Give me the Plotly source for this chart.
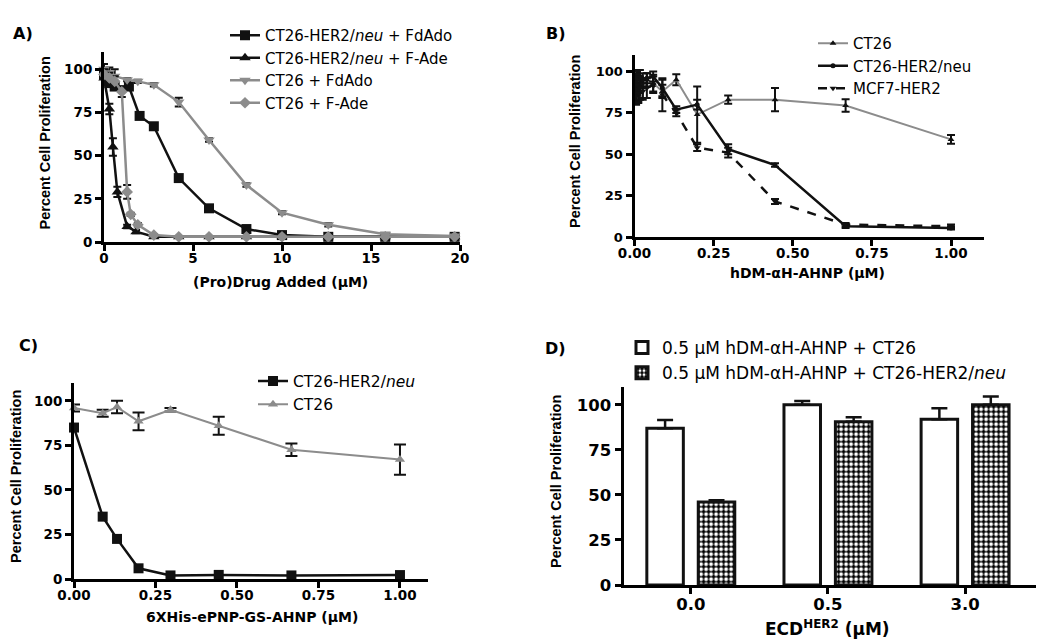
import plotly.graph_objects as go

# ---------------- Panel A data ----------------
a_x_her2_fdado = [0, 0.3, 0.6, 1.4, 2.0, 2.8, 4.2, 5.9, 8.0, 10.0, 12.6, 15.8, 19.7]
a_y_her2_fdado = [97, 92, 90, 90, 73, 67, 37, 19.5, 7.5, 4, 3, 3, 3]
a_e_her2_fdado = [3, 2, 2, 1, 1, 1, 1, 1, 1, 0.5, 0.5, 0.5, 0.5]

a_x_her2_fade = [0, 0.3, 0.5, 0.75, 1.3, 1.8, 2.8, 4.2, 5.9, 8.0, 10.0, 12.6, 15.8, 19.7]
a_y_her2_fade = [95, 77, 55, 29, 9, 6, 3, 3, 3, 3, 3, 3, 3, 3]
a_e_her2_fade = [4, 3, 5, 3, 1, 1, 0.5, 0.5, 0.5, 0.5, 0.5, 0.5, 0.5, 0.5]

a_x_ct26_fdado = [0, 0.3, 0.6, 1.3, 1.9, 2.8, 4.2, 5.9, 8.0, 10.0, 12.6, 15.8, 19.7]
a_y_ct26_fdado = [100, 98, 96, 94, 93, 91, 81, 59, 33, 17, 10, 4.5, 3.5]
a_e_ct26_fdado = [3, 3, 4, 1, 1, 1, 2.5, 1, 1, 1, 1, 0.5, 0.5]

a_x_ct26_fade = [0, 0.3, 0.6, 1.0, 1.3, 1.5, 1.9, 2.8, 4.2, 5.9, 8.0, 10.0, 12.6, 15.8, 19.7]
a_y_ct26_fade = [97, 95, 93, 87, 29, 16, 10, 4, 3, 3, 3, 3, 3, 3, 3]
a_e_ct26_fade = [3, 3, 3, 3, 4, 1, 1, 0.5, 0.5, 0.5, 0.5, 0.5, 0.5, 0.5, 0.5]

# ---------------- Panel B data ----------------
b_x = [0.005, 0.008, 0.012, 0.017, 0.026, 0.039, 0.059, 0.088, 0.132, 0.198, 0.296, 0.444, 0.667, 1.0]
b_ct26 = [90, 95, 88, 92, 90, 95, 93, 88, 95, 74, 83, 83, 79.5, 59]
b_ct26_err = [8, 5, 6, 5, 6, 4, 5, 4, 3.3, 17, 2.5, 7, 3.8, 2.7]
b_her2 = [94, 96, 98, 97, 95, 96, 97, 90, 77, 80, 53, 43.5, 6.5, 5.5]
b_her2_err = [4, 3, 3, 4, 4, 3, 3, 5, 2, 3, 3, 1, 1, 1]
b_mcf7 = [85, 92, 87, 90, 88, 90, 92, 86, 75, 54, 51, 21.5, 7.5, 6.5]
b_mcf7_err = [5, 6, 6, 7, 5, 6, 5, 10, 2, 2, 3, 1.5, 1, 1]

# ---------------- Panel C data ----------------
c_x = [0, 0.088, 0.132, 0.198, 0.296, 0.444, 0.667, 1.0]
c_her2 = [85, 35, 22.5, 6, 2, 2.3, 2, 2.2]
c_her2_err = [1, 1, 1, 1, 0.5, 0.5, 0.5, 0.5]
c_ct26 = [96, 93, 96.5, 88.5, 95, 86, 72.5, 67]
c_ct26_err = [2, 2, 3.5, 5, 1, 5, 3.5, 8.5]

# ---------------- Panel D data ----------------
d_cats = ["0.0", "0.5", "3.0"]
d_ct26 = [87, 100, 92]
d_ct26_err = [4.5, 2, 6]
d_her2 = [46, 90.5, 100]
d_her2_err = [1, 2.5, 4.5]

y_ticks = [0, 25, 50, 75, 100]

# page has an 8px body margin, so the figure is drawn 8px in from the top-left
OFF = 8
W, H = 1050 - OFF, 643 - OFF
FONT = "DejaVu Sans, sans-serif"
TFONT = "Liberation Sans, Arial, sans-serif"
GREY = "#8c8c8c"
BLACK = "#111111"


def px_x(p):
    return (p - OFF) / W


def px_y(p):
    return 1 - (p - OFF) / H


fig = go.Figure()


def err(arr, color, w=4):
    return dict(type="data", array=arr, visible=True, color=color, thickness=2, width=w)


# Panel A traces
fig.add_trace(go.Scatter(x=a_x_her2_fdado, y=a_y_her2_fdado, mode="lines+markers",
                         name="CT26-HER2/<i>neu</i> + FdAdo", line=dict(color=BLACK, width=2.5),
                         marker=dict(symbol="square", size=10, color=BLACK),
                         error_y=err(a_e_her2_fdado, BLACK), cliponaxis=False,
                         xaxis="x", yaxis="y", legend="legend"))
fig.add_trace(go.Scatter(x=a_x_her2_fade, y=a_y_her2_fade, mode="lines+markers",
                         name="CT26-HER2/<i>neu</i> + F-Ade", line=dict(color=BLACK, width=2.5),
                         marker=dict(symbol="triangle-up", size=10, color=BLACK),
                         error_y=err(a_e_her2_fade, BLACK), cliponaxis=False,
                         xaxis="x", yaxis="y", legend="legend"))
fig.add_trace(go.Scatter(x=a_x_ct26_fdado, y=a_y_ct26_fdado, mode="lines+markers",
                         name="CT26 + FdAdo", line=dict(color=GREY, width=2.5),
                         marker=dict(symbol="triangle-down", size=10, color=GREY),
                         error_y=err(a_e_ct26_fdado, BLACK), cliponaxis=False,
                         xaxis="x", yaxis="y", legend="legend"))
fig.add_trace(go.Scatter(x=a_x_ct26_fade, y=a_y_ct26_fade, mode="lines+markers",
                         name="CT26 + F-Ade", line=dict(color=GREY, width=2.5),
                         marker=dict(symbol="diamond", size=9, color=GREY),
                         error_y=err(a_e_ct26_fade, BLACK), cliponaxis=False,
                         xaxis="x", yaxis="y", legend="legend"))

# Panel B traces
fig.add_trace(go.Scatter(x=b_x, y=b_ct26, mode="lines+markers", name="CT26",
                         line=dict(color=GREY, width=2),
                         marker=dict(symbol="triangle-up", size=6, color=BLACK),
                         error_y=err(b_ct26_err, BLACK), cliponaxis=False,
                         xaxis="x2", yaxis="y2", legend="legend2"))
fig.add_trace(go.Scatter(x=b_x, y=b_her2, mode="lines+markers", name="CT26-HER2/neu",
                         line=dict(color=BLACK, width=2.5),
                         marker=dict(symbol="circle", size=5, color=BLACK),
                         error_y=err(b_her2_err, BLACK), cliponaxis=False,
                         xaxis="x2", yaxis="y2", legend="legend2"))
fig.add_trace(go.Scatter(x=b_x, y=b_mcf7, mode="lines+markers", name="MCF7-HER2",
                         line=dict(color=BLACK, width=2.5, dash="dash"),
                         marker=dict(symbol="triangle-down", size=6, color=BLACK),
                         error_y=err(b_mcf7_err, BLACK), cliponaxis=False,
                         xaxis="x2", yaxis="y2", legend="legend2"))

# Panel C traces
fig.add_trace(go.Scatter(x=c_x, y=c_her2, mode="lines+markers", name="CT26-HER2/<i>neu</i>",
                         line=dict(color=BLACK, width=2.5),
                         marker=dict(symbol="square", size=10, color=BLACK),
                         error_y=err(c_her2_err, BLACK), cliponaxis=False,
                         xaxis="x3", yaxis="y3", legend="legend3"))
fig.add_trace(go.Scatter(x=c_x, y=c_ct26, mode="lines+markers", name="CT26",
                         line=dict(color=GREY, width=2),
                         marker=dict(symbol="triangle-up", size=9, color=GREY),
                         error_y=err(c_ct26_err, BLACK, 6), cliponaxis=False,
                         xaxis="x3", yaxis="y3", legend="legend3"))

# Panel D traces
fig.add_trace(go.Bar(x=d_cats, y=d_ct26, name="0.5 μM hDM-αH-AHNP + CT26",
                     marker=dict(color="white", line=dict(color=BLACK, width=3)),
                     error_y=dict(type="data", array=d_ct26_err, arrayminus=[0] * len(d_ct26_err),
                                  symmetric=False, color=BLACK, thickness=2.5, width=8),
                     xaxis="x4", yaxis="y4", legend="legend4"))
fig.add_trace(go.Bar(x=d_cats, y=d_her2, name="0.5 μM hDM-αH-AHNP + CT26-HER2/<i>neu</i>",
                     marker=dict(color="black", line=dict(color=BLACK, width=3),
                                 pattern=dict(shape=".", fgcolor="white", bgcolor="black",
                                              size=5, solidity=0.45, fillmode="replace")),
                     error_y=dict(type="data", array=d_her2_err, arrayminus=[0] * len(d_her2_err),
                                  symmetric=False, color=BLACK, thickness=2.5, width=8),
                     xaxis="x4", yaxis="y4", legend="legend4"))


def axis_common(size, standoff=0):
    return dict(showline=True, linewidth=3, linecolor="black", ticks="outside",
                ticklen=6, tickwidth=3, tickcolor="black", showgrid=False,
                zeroline=False, automargin=False, ticklabelstandoff=standoff,
                tickfont=dict(family=FONT, size=size, color="black", weight="bold"))


fig.update_layout(
    template="none",
    width=W, height=H, margin=dict(l=0, r=0, t=0, b=0, autoexpand=False),
    paper_bgcolor="white", plot_bgcolor="white",
    font=dict(family=FONT, color="black"),
    barmode="group", bargap=0.25, bargroupgap=0.29,
    xaxis=dict(domain=[px_x(104), px_x(460)], range=[0, 20], tickvals=[0, 5, 10, 15, 20],
               anchor="y", **axis_common(13.5, -4)),
    yaxis=dict(domain=[px_y(242), px_y(52)], range=[0, 110], tickvals=y_ticks,
               anchor="x", **axis_common(13.5)),
    xaxis2=dict(domain=[px_x(634.5), px_x(983.6)], range=[0, 1.103],
                tickvals=[0, 0.25, 0.5, 0.75, 1.0], tickformat=".2f", anchor="y2",
                **axis_common(13.5, -4)),
    yaxis2=dict(domain=[px_y(237), px_y(55)], range=[0, 110], tickvals=y_ticks,
                anchor="x2", **axis_common(13)),
    xaxis3=dict(domain=[px_x(74), px_x(428)], range=[0, 1.086],
                tickvals=[0, 0.25, 0.5, 0.75, 1.0], tickformat=".2f", anchor="y3",
                **axis_common(13.5, -4)),
    yaxis3=dict(domain=[px_y(579), px_y(383)], range=[0, 110], tickvals=y_ticks,
                anchor="x3", **axis_common(13.5)),
    xaxis4=dict(domain=[px_x(623.6), px_x(1036.4)], range=[-0.49, 2.52], type="category",
                anchor="y4", **axis_common(16.5, -4)),
    yaxis4=dict(domain=[px_y(585), px_y(386.7)], range=[0, 110], tickvals=y_ticks,
                anchor="x4", **axis_common(16.5)),
    legend=dict(x=px_x(225), y=px_y(19), xanchor="left", yanchor="top",
                font=dict(family=FONT, size=15, color="black"), bgcolor="rgba(0,0,0,0)"),
    legend2=dict(x=px_x(813), y=px_y(27), xanchor="left", yanchor="top",
                 font=dict(family=FONT, size=15, color="black"), bgcolor="rgba(0,0,0,0)"),
    legend3=dict(x=px_x(253), y=px_y(364.5), xanchor="left", yanchor="top",
                 font=dict(family=FONT, size=15.5, color="black"), bgcolor="rgba(0,0,0,0)"),
    legend4=dict(x=px_x(622), y=px_y(330), xanchor="left", yanchor="top",
                 font=dict(family=FONT, size=17, color="black"), bgcolor="rgba(0,0,0,0)"),
    showlegend=True,
)

ytitle = "Percent Cell Proliferation"
anno_list = []
for (txt, xc, yc) in [("A)", 23, 33), ("B)", 556, 33), ("C)", 28, 345), ("D)", 555, 348)]:
    anno_list.append(dict(text=txt, x=px_x(xc), y=px_y(yc), xref="paper", yref="paper",
                          showarrow=False, xanchor="center", yanchor="middle",
                          font=dict(family=FONT, size=16, color="black", weight="bold")))
for (xc, yc) in [(45, 143.5), (575, 142), (16, 477), (556, 482)]:
    anno_list.append(dict(text=ytitle, x=px_x(xc), y=px_y(yc), xref="paper", yref="paper",
                          showarrow=False, textangle=-90, xanchor="center", yanchor="middle",
                          font=dict(family=TFONT, size=14.5, color="black", weight="bold")))
for (txt, xc, yc, fs) in [("(Pro)Drug Added (μM)", 280, 282, 14), ("hDM-αH-AHNP (μM)", 807, 273, 14),
                          ("6XHis-ePNP-GS-AHNP (μM)", 252, 617, 14),
                          ("ECD<sup>HER2</sup> (μM)", 827, 628, 17)]:
    anno_list.append(dict(text=txt, x=px_x(xc), y=px_y(yc), xref="paper", yref="paper",
                          showarrow=False, xanchor="center", yanchor="middle",
                          font=dict(family=FONT, size=fs, color="black", weight="bold")))
fig.update_layout(annotations=anno_list)

fig.write_html("out.html")
